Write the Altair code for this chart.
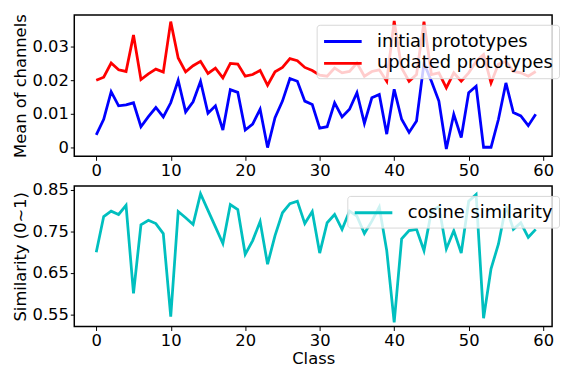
import altair as alt
import pandas as pd

classes = list(range(60))

initial = [0.0038, 0.0084, 0.0166, 0.0124, 0.0127, 0.0133, 0.0062, 0.0092, 0.0119, 0.0091,
           0.0133, 0.0200, 0.0106, 0.0136, 0.0197, 0.0102, 0.0124, 0.0052, 0.0172, 0.0164,
           0.0052, 0.0070, 0.0114, 0.0000, 0.0089, 0.0138, 0.0205, 0.0197, 0.0138, 0.0128,
           0.0058, 0.0062, 0.0133, 0.0091, 0.0114, 0.0163, 0.0072, 0.0148, 0.0158, 0.0040,
           0.0173, 0.0084, 0.0045, 0.0079, 0.0251, 0.0197, 0.0138, -0.0004, 0.0099, 0.0030,
           0.0163, 0.0182, 0.0001, 0.0001, 0.0084, 0.0192, 0.0104, 0.0094, 0.0065, 0.0099]

updated = [0.0200, 0.0209, 0.0251, 0.0231, 0.0226, 0.0334, 0.0202, 0.0219, 0.0233, 0.0224,
           0.0374, 0.0266, 0.0225, 0.0243, 0.0256, 0.0220, 0.0236, 0.0207, 0.0250, 0.0248,
           0.0212, 0.0217, 0.0229, 0.0185, 0.0225, 0.0238, 0.0264, 0.0258, 0.0238, 0.0229,
           0.0215, 0.0212, 0.0236, 0.0222, 0.0226, 0.0251, 0.0212, 0.0226, 0.0231, 0.0197,
           0.0376, 0.0236, 0.0197, 0.0217, 0.0374, 0.0217, 0.0222, 0.0177, 0.0222, 0.0197,
           0.0222, 0.0256, 0.0276, 0.0192, 0.0248, 0.0256, 0.0226, 0.0222, 0.0212, 0.0226]

cosine = [0.700, 0.786, 0.799, 0.791, 0.813, 0.601, 0.766, 0.777, 0.769, 0.745,
          0.545, 0.798, 0.783, 0.767, 0.841, 0.801, 0.761, 0.721, 0.815, 0.803,
          0.695, 0.728, 0.774, 0.671, 0.740, 0.795, 0.817, 0.823, 0.769, 0.798,
          0.698, 0.771, 0.791, 0.755, 0.799, 0.787, 0.745, 0.775, 0.809, 0.704,
          0.531, 0.732, 0.752, 0.755, 0.704, 0.799, 0.810, 0.708, 0.752, 0.698,
          0.823, 0.839, 0.541, 0.660, 0.720, 0.811, 0.755, 0.771, 0.736, 0.755]

series_top = ["initial prototypes", "updated prototypes"]
series_bottom = ["cosine similarity"]
x_ticks = [0, 10, 20, 30, 40, 50, 60]
top_ticks = [0, 0.01, 0.02, 0.03]
bottom_ticks = [0.55, 0.65, 0.75, 0.85]

top_df = pd.DataFrame({
    "Class": classes * 2,
    "value": initial + updated,
    "series": [series_top[0]] * 60 + [series_top[1]] * 60,
})
bottom_df = pd.DataFrame({
    "Class": classes,
    "value": cosine,
    "series": series_bottom * 60,
})

FONT = "DejaVu Sans"
W = 483
x_dom = [-2.95, 61.2]

sym_path = "M-1,0H3"


def legend(lx, ly):
    return alt.Legend(title=None, orient="none", legendX=lx, legendY=ly,
                      symbolType=sym_path, symbolSize=361,
                      symbolStrokeWidth=3, labelOffset=33, labelLimit=400,
                      padding=6, rowPadding=2, zindex=2)


top = alt.Chart(top_df).mark_line(strokeWidth=2.8, clip=True).encode(
    x=alt.X("Class:Q", scale=alt.Scale(domain=x_dom, nice=False, zero=False),
            axis=alt.Axis(values=x_ticks, title=None, labelFlush=False)),
    y=alt.Y("value:Q", scale=alt.Scale(domain=[-0.0026, 0.0394], nice=False, zero=False),
            axis=alt.Axis(values=top_ticks, title="Mean of channels", titlePadding=4,
                          labelExpr="datum.value == 0 ? '0' : format(datum.value, '.2f')")),
    color=alt.Color("series:N",
                    scale=alt.Scale(domain=series_top, range=["#0000ff", "#ff0000"]),
                    legend=legend(245, 10)),
).properties(width=W, height=143)

bottom = alt.Chart(bottom_df).mark_line(strokeWidth=2.8, clip=True).encode(
    x=alt.X("Class:Q", scale=alt.Scale(domain=x_dom, nice=False, zero=False),
            axis=alt.Axis(values=x_ticks, title="Class", labelFlush=False, titlePadding=2)),
    y=alt.Y("value:Q", scale=alt.Scale(domain=[0.521, 0.8595], nice=False, zero=False),
            axis=alt.Axis(values=bottom_ticks, title="Similarity (0~1)", format=".2f",
                          titlePadding=4)),
    color=alt.Color("series:N",
                    scale=alt.Scale(domain=series_bottom, range=["#00bfbf"]),
                    legend=legend(276, 10)),
).properties(width=W, height=142)

chart = alt.vconcat(top, bottom, spacing=1).resolve_scale(color="independent").properties(
    padding={"left": 3, "top": 3, "right": 0, "bottom": 0}
).configure_view(
    stroke="black", strokeWidth=1.5
).configure_axis(
    grid=False, domain=False, tickColor="black", tickSize=4, tickWidth=1,
    labelFont=FONT, labelFontSize=16.5, labelColor="black", labelPadding=2,
    titleFont=FONT, titleFontSize=16.5, titleFontWeight="normal", titleColor="black"
).configure_legend(
    labelFont=FONT, labelFontSize=18, labelColor="black",
    fillColor="rgba(255,255,255,0.8)", strokeColor="#d8d8d8", cornerRadius=3
)

chart.save("out.html", embed_options={"renderer": "svg", "actions": False})
